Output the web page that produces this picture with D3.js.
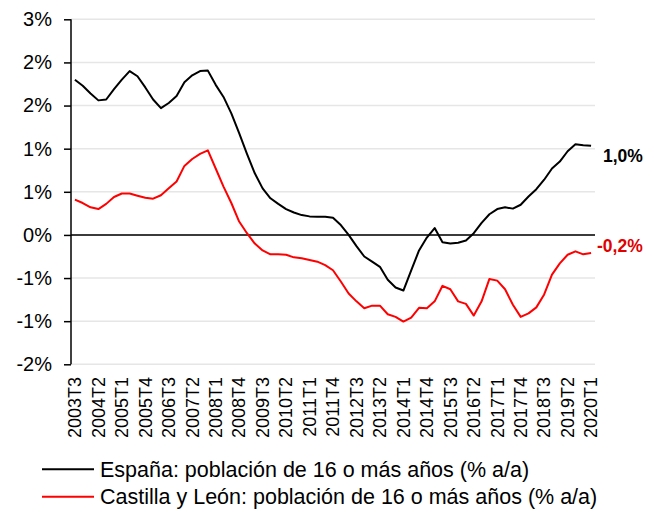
<!DOCTYPE html>
<html>
<head>
<meta charset="utf-8">
<script src="https://cdn.jsdelivr.net/npm/d3@7"></script>
<style>
  body { margin: 0; background: #fff; }
  svg { font-family: "Liberation Sans", Arial, sans-serif; }
</style>
</head>
<body>
<svg></svg>
<script>
// quarters 2003T3 .. 2020T1
var quarters = [];
for (var y = 2003; y <= 2020; y++) {
  for (var q = 1; q <= 4; q++) {
    if ((y == 2003 && q < 3) || (y == 2020 && q > 1)) continue;
    quarters.push(y + "T" + q);
  }
}

var espana = [1.80,1.73,1.64,1.56,1.57,1.69,1.80,1.90,1.84,1.71,1.57,1.47,1.53,1.61,1.77,1.85,1.90,1.905,
  1.74,1.60,1.41,1.18,0.94,0.715,0.54,0.425,0.36,0.30,0.26,0.23,0.215,0.21,0.21,0.20,0.115,0.00,
  -0.13,-0.25,-0.31,-0.37,-0.52,-0.61,-0.645,-0.41,-0.18,-0.03,0.08,-0.085,-0.10,-0.09,-0.065,0.02,
  0.14,0.24,0.30,0.32,0.305,0.35,0.445,0.53,0.64,0.77,0.85,0.97,1.05,1.04,1.035];

var castilla = [0.41,0.37,0.32,0.30,0.36,0.44,0.48,0.48,0.455,0.43,0.42,0.46,0.54,0.62,0.80,0.88,0.94,0.98,
  0.77,0.56,0.37,0.155,0.02,-0.10,-0.18,-0.225,-0.225,-0.23,-0.26,-0.27,-0.29,-0.31,-0.35,-0.41,-0.54,-0.68,
  -0.77,-0.85,-0.82,-0.82,-0.92,-0.95,-1.005,-0.96,-0.845,-0.85,-0.77,-0.59,-0.63,-0.77,-0.80,-0.935,
  -0.77,-0.51,-0.53,-0.63,-0.81,-0.95,-0.91,-0.84,-0.69,-0.46,-0.33,-0.23,-0.19,-0.225,-0.21];

var yTicks = [-1.5,-1,-0.5,0,0.5,1,1.5,2,2.5];
var endLabels = ["1,0%", "-0,2%"];
var legendNames = ["España: población de 16 o más años (% a/a)",
                   "Castilla y León: población de 16 o más años (% a/a)"];
var colors = ["#000000", "#ff0000"];

var svgWidth = 660, svgHeight = 511;
var plotLeft = 71, plotRight = 595, plotTop = 19.3, plotBottom = 364.3;

var svg = d3.select("svg")
  .attr("width", svgWidth)
  .attr("height", svgHeight);

var x = d3.scalePoint()
  .domain(quarters)
  .range([plotLeft, plotRight])
  .padding(0.5);

var yscale = d3.scaleLinear()
  .domain([-1.5, 2.5])
  .range([plotBottom, plotTop]);

// gridlines
svg.append("g")
  .selectAll("line")
  .data(yTicks)
  .enter()
  .append("line")
  .attr("x1", plotLeft)
  .attr("x2", plotRight)
  .attr("y1", function(d) { return yscale(d); })
  .attr("y2", function(d) { return yscale(d); })
  .attr("stroke", "#e6e6e6")
  .attr("stroke-width", 1.5);

// y axis, labels rounded like the original (half away from zero)
var yAxis = d3.axisLeft(yscale)
  .tickValues(yTicks)
  .tickSize(7)
  .tickPadding(12)
  .tickFormat(function(d) {
    var r = Math.sign(d) * Math.round(Math.abs(d));
    return r + "%";
  });

var gy = svg.append("g")
  .attr("transform", "translate(" + plotLeft + ",0)")
  .call(yAxis);
gy.select(".domain").attr("stroke", "#000").attr("stroke-width", 1.5)
  .attr("d", "M0," + plotTop + "V" + plotBottom);
gy.selectAll(".tick line").attr("stroke", "#000").attr("stroke-width", 1.5);
gy.selectAll(".tick text")
  .attr("font-size", "20px")
  .attr("fill", "#000")
  .attr("font-family", "Liberation Sans, Arial, sans-serif");

// zero line
svg.append("line")
  .attr("x1", plotLeft)
  .attr("x2", plotRight)
  .attr("y1", yscale(0))
  .attr("y2", yscale(0))
  .attr("stroke", "#000")
  .attr("stroke-width", 1.5);

// x labels every 3 quarters
var xLabels = quarters.filter(function(d, i) { return i % 3 == 0; });
svg.append("g")
  .selectAll("text")
  .data(xLabels)
  .enter()
  .append("text")
  .text(function(d) { return d; })
  .attr("transform", function(d) {
    return "translate(" + x(d) + "," + 377 + ") rotate(-90)";
  })
  .attr("dy", "0.35em")
  .attr("text-anchor", "end")
  .attr("font-size", "18px")
  .attr("fill", "#000");

// lines
var line = d3.line()
  .x(function(d, i) { return x(quarters[i]); })
  .y(function(d) { return yscale(d); });

[espana, castilla].forEach(function(series, k) {
  svg.append("path")
    .datum(series)
    .attr("d", line)
    .attr("fill", "none")
    .attr("stroke", colors[k])
    .attr("stroke-width", 2)
    .attr("stroke-linejoin", "round");
});

// end labels
svg.append("text")
  .text(endLabels[0])
  .attr("x", 603)
  .attr("y", 161.7)
  .attr("font-size", "17.5px")
  .attr("font-weight", "bold")
  .attr("fill", colors[0]);

svg.append("text")
  .text(endLabels[1])
  .attr("x", 597)
  .attr("y", 251.7)
  .attr("font-size", "17.5px")
  .attr("font-weight", "bold")
  .attr("fill", "#e00000");

// legend
var legend = svg.append("g")
  .selectAll("g")
  .data(legendNames)
  .enter()
  .append("g")
  .attr("transform", function(d, i) { return "translate(0," + (469.3 + i * 27.4) + ")"; });

legend.append("line")
  .attr("x1", 42)
  .attr("x2", 94)
  .attr("stroke", function(d, i) { return colors[i]; })
  .attr("stroke-width", 2);

legend.append("text")
  .text(function(d) { return d; })
  .attr("x", 100)
  .attr("dy", "0.35em")
  .attr("font-size", "21.5px")
  .attr("fill", "#000");
</script>
</body>
</html>
